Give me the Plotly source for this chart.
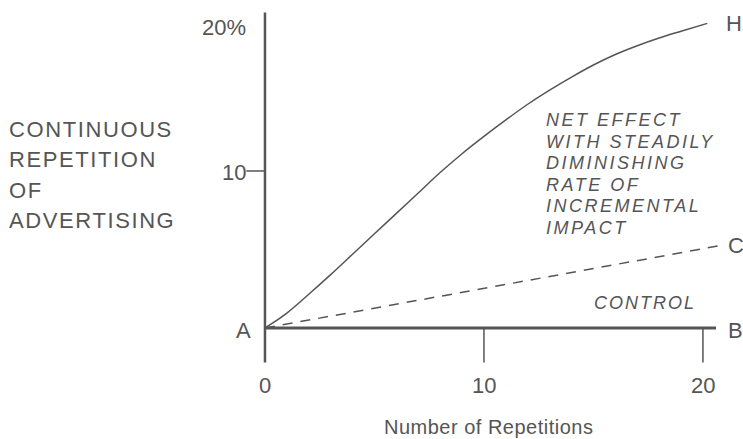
import json
import plotly.graph_objects as go

# ---- data ----
reps = [0, 1, 2, 3, 4, 5, 6, 7, 8, 9, 10, 11, 12, 13, 14, 15, 16, 17, 18, 19, 20.2]
net_effect = [0, 0.95, 2.15, 3.4, 4.7, 6.0, 7.3, 8.6, 9.9, 11.1, 12.2, 13.25, 14.25, 15.15, 15.98, 16.75, 17.42, 17.98, 18.47, 18.9, 19.4]
control_x = [0, 20.6]
baseline = [0, 0]
dashed_x = [0, 20.8]
control_dashed = [0, 5.25]
x_ticks = [0, 10, 20]
x_tick_labels = ["0", "10", "20"]
y_ticks = [10, 20]
y_tick_labels = ["10", "20%"]
point_labels = ["A", "B", "C", "H"]
y_desc_lines = ["CONTINUOUS", "REPETITION", "OF", "ADVERTISING"]
note_lines = ["NET EFFECT", "WITH STEADILY", "DIMINISHING", "RATE OF", "INCREMENTAL", "IMPACT"]

COL = "#555555"
FONT = "Liberation Sans, Arial, Helvetica, sans-serif"
W, H = 743, 439

fig = go.Figure()

# vertical axis
fig.add_trace(go.Scatter(x=[0, 0], y=[20.1, -2.2], mode="lines",
                         line=dict(color=COL, width=2.5), hoverinfo="skip"))
# x ticks (downward from baseline)
for t in x_ticks[1:]:
    fig.add_trace(go.Scatter(x=[t, t], y=[0, -2.2], mode="lines",
                             line=dict(color=COL, width=1.5), hoverinfo="skip"))
# y tick at 10
fig.add_trace(go.Scatter(x=[-0.85, 0], y=[y_ticks[0], y_ticks[0]], mode="lines",
                         line=dict(color=COL, width=1.5), hoverinfo="skip"))
# control baseline A-B
fig.add_trace(go.Scatter(x=control_x, y=baseline, mode="lines",
                         line=dict(color=COL, width=3), hoverinfo="skip"))
# dashed A-C
fig.add_trace(go.Scatter(x=dashed_x, y=control_dashed, mode="lines",
                         line=dict(color=COL, width=1.5, dash="10px,8px"), hoverinfo="skip"))
# net effect curve A-H
fig.add_trace(go.Scatter(x=reps, y=net_effect, mode="lines",
                         line=dict(color=COL, width=1.5, shape="spline"), hoverinfo="skip"))

ann = []
spacing = []
def ptxt(px, py, s, size=22, xanchor="left", italic=False, ls=0):
    """text placed by pixel position (px from left, py = vertical centre from top)"""
    ann.append(dict(x=px / W, y=1 - py / H, xref="paper", yref="paper", text=s,
                    showarrow=False, xanchor=xanchor, yanchor="middle",
                    font=dict(family=FONT, size=size, color=COL,
                              style="italic" if italic else "normal")))
    spacing.append(ls)

def xtxt(x, py, s, size=22, ls=0):
    ann.append(dict(x=x, y=1 - py / H, xref="x", yref="paper", text=s,
                    showarrow=False, xanchor="center", yanchor="middle",
                    font=dict(family=FONT, size=size, color=COL)))
    spacing.append(ls)

# x tick labels
for t, l in zip(x_ticks, x_tick_labels):
    xtxt(t, 385, l)
# y tick labels
ptxt(248, 172, y_tick_labels[0], xanchor="right")
ptxt(248, 27, y_tick_labels[1], xanchor="right")
# point labels
ptxt(253, 330, point_labels[0], xanchor="right")
ptxt(726, 330, point_labels[1])
ptxt(726, 245, point_labels[2])
ptxt(724, 24, point_labels[3])
# axis title
xtxt(10, 427, "Number of Repetitions", size=20, ls=0.5)
# y description
for i, s in enumerate(y_desc_lines):
    ptxt(7, 129 + i * 30.5, s, ls=1.6)
# italic note
for i, s in enumerate(note_lines):
    ptxt(544, 120 + i * 21.6, s, size=18, italic=True, ls=2.5)
ptxt(592, 303, "CONTROL", size=18, italic=True, ls=2)

fig.update_layout(
    width=W, height=H,
    margin=dict(l=0, r=0, t=0, b=0),
    paper_bgcolor="white", plot_bgcolor="white",
    showlegend=False,
    annotations=ann,
    xaxis=dict(range=[-12.1, 21.83], visible=False, fixedrange=True),
    yaxis=dict(range=[-7.07, 20.89], visible=False, fixedrange=True),
)

# widen letter spacing of the left-aligned text blocks while keeping their left edge
post = (
    "document.body.style.margin='0';"
    "var sp=" + json.dumps(spacing) + ";"
    "document.querySelectorAll('g.annotation').forEach(function(g){"
    "var i=parseInt(g.getAttribute('data-index'));"
    "if(isNaN(i)||!sp[i])return;"
    "var t=g.querySelector('text.annotation-text');if(!t)t=g.querySelector('text');if(!t)return;"
    "var bb=t.getBBox();"
    "var anc=t.getAttribute('text-anchor')||'middle';"
    "t.style.letterSpacing=sp[i]+'px';"
    "if(anc!=='start'){"
    " var x0=bb.x;"
    " t.setAttribute('text-anchor','start');"
    " t.setAttribute('x',x0);"
    " t.querySelectorAll('tspan').forEach(function(s){if(s.hasAttribute('x'))s.setAttribute('x',x0);});"
    "}"
    "});"
)

fig.write_html("out.html", config={"displayModeBar": False}, post_script=post)
